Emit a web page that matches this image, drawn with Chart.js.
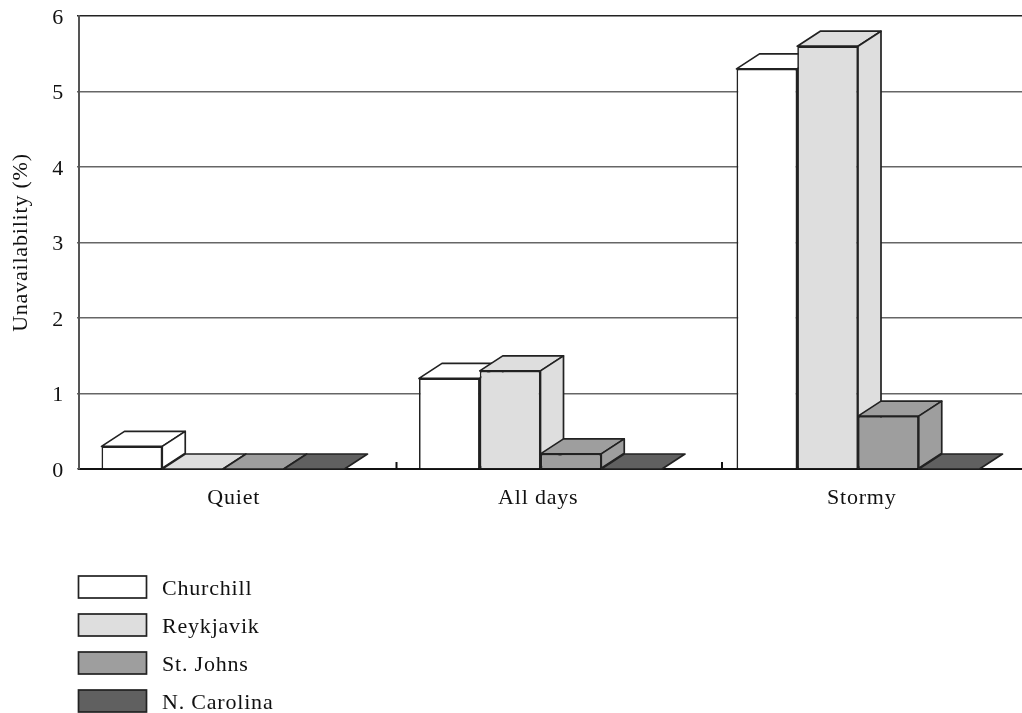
<!DOCTYPE html>
<html>
<head>
<meta charset="utf-8">
<style>
html,body{margin:0;padding:0;background:#fff;overflow:hidden;width:1022px;height:713px;}
canvas{display:block;}
</style>
<script src="https://cdn.jsdelivr.net/npm/chart.js@4/dist/chart.umd.min.js"></script>
</head>
<body>
<canvas id="chart" width="1040" height="713"></canvas>
<script>
const categories = ["Quiet", "All days", "Stormy"];
const churchill = [0.3, 1.2, 5.3];
const reykjavik = [0, 1.3, 5.6];
const stJohns = [0, 0.2, 0.7];
const nCarolina = [0, 0, 0];
const seriesNames = ["Churchill", "Reykjavik", "St. Johns", "N. Carolina"];
const seriesColors = ["#ffffff", "#dedede", "#9e9e9e", "#606060"];
const yLabel = "Unavailability (%)";

const font = "Liberation Serif";
const fontSize = 22;
const spacing = "0.8px";
const lineColor = "#222222";
const edge = 1.7;
const depthX = 23, depthY = 15;
const groupShift = -14.75;
const labelNudge = [-4, -17, -11];
const yLabelNudge = 2;
const tickNudge = [0, 8];

// bars sit left of the category centre, the depth part fills the rest
const shiftBars = {
  id: "shiftBars",
  afterDatasetsUpdate(chart){
    chart.getSortedVisibleDatasetMetas().forEach(meta=>{
      meta.data.forEach(bar=>{ bar.x += groupShift; });
    });
  }
};

function drawFaces(ctx, bar, color){
  const half = bar.width/2;
  const l = bar.x-half, r = bar.x+half, t = bar.y, b = bar.base;
  ctx.save();
  ctx.fillStyle = color;
  ctx.strokeStyle = lineColor;
  ctx.lineWidth = edge;
  ctx.lineJoin = "round";
  ctx.beginPath();
  ctx.moveTo(l,t);
  ctx.lineTo(l+depthX,t-depthY);
  ctx.lineTo(r+depthX,t-depthY);
  ctx.lineTo(r,t);
  ctx.closePath();
  ctx.fill();
  ctx.stroke();
  if(b-t>0.5){
    ctx.beginPath();
    ctx.moveTo(r,t);
    ctx.lineTo(r+depthX,t-depthY);
    ctx.lineTo(r+depthX,b-depthY);
    ctx.lineTo(r,b);
    ctx.closePath();
    ctx.fill();
    ctx.stroke();
  }
  ctx.restore();
}

// series are painted first to last so the later boxes cover the earlier ones
const boxes = {
  id: "boxes",
  beforeDatasetsDraw(chart){
    const ctx = chart.ctx;
    chart.data.datasets.forEach((ds,i)=>{
      chart.getDatasetMeta(i).data.forEach(bar=>{
        drawFaces(ctx,bar,ds.backgroundColor);
        bar.draw(ctx);
      });
    });
    return false;
  }
};

// small ticks between categories, and the axis labels moved to where they are in the figure
const axisBits = {
  id: "axisBits",
  beforeDraw(chart){
    chart.ctx.letterSpacing = spacing;
    chart.scales.x.getLabelItems(chart.chartArea).forEach((item,i)=>{
      if(!item.nudged){
        item.options.translation[0] += labelNudge[i];
        item.nudged = true;
      }
    });
    chart.scales.y.getLabelItems(chart.chartArea).forEach(item=>{
      if(!item.nudged){
        item.options.translation[1] += yLabelNudge;
        item.nudged = true;
      }
    });
  },
  afterDraw(chart){
    const ctx = chart.ctx, x = chart.scales.x, bottom = chart.chartArea.bottom;
    ctx.save();
    ctx.strokeStyle = "#111111";
    ctx.lineWidth = 2;
    tickNudge.forEach((n,i)=>{
      const px = (x.getPixelForTick(i)+x.getPixelForTick(i+1))/2+n;
      ctx.beginPath();
      ctx.moveTo(px,bottom);
      ctx.lineTo(px,bottom-7);
      ctx.stroke();
    });
    ctx.restore();
  }
};

// vertical legend under the plot
const legendBlock = {
  id: "legendBlock",
  afterDraw(chart){
    const ctx = chart.ctx;
    ctx.save();
    ctx.font = fontSize+"px '"+font+"'";
    ctx.textBaseline = "middle";
    seriesNames.forEach((name,i)=>{
      const y = 576+i*38;
      ctx.fillStyle = seriesColors[i];
      ctx.fillRect(78.5,y,68,22);
      ctx.strokeStyle = lineColor;
      ctx.lineWidth = edge;
      ctx.strokeRect(78.5,y,68,22);
      ctx.fillStyle = "#111111";
      ctx.fillText(name,162,y+13);
    });
    ctx.restore();
  }
};

const allValues = [churchill, reykjavik, stJohns, nCarolina];

new Chart(document.getElementById("chart"),{
  type:"bar",
  data:{
    labels:categories,
    datasets:allValues.map((vals,i)=>({
      label:seriesNames[i],
      data:vals,
      backgroundColor:seriesColors[i],
      borderColor:lineColor,
      borderWidth:edge,
      barPercentage:1,
      categoryPercentage:0.7654
    }))
  },
  options:{
    responsive:false,
    animation:false,
    devicePixelRatio:1,
    layout:{padding:{top:16,right:8.5,bottom:0,left:0}},
    plugins:{legend:{display:false},tooltip:{enabled:false}},
    scales:{
      x:{
        afterFit(s){ s.height=244; },
        grid:{display:false},
        border:{color:"#111111",width:2},
        ticks:{color:"#111111",padding:8,maxRotation:0,font:{family:font,size:fontSize}}
      },
      y:{
        min:0,
        max:6,
        afterFit(s){ s.width=79; s.paddingTop=0; s.paddingBottom=0; },
        grid:{
          color:ctx=>ctx.tick && ctx.tick.value===6 ? "#222222" : "#666666",
          lineWidth:1.5,
          tickLength:2
        },
        border:{color:"#555555",width:2},
        title:{display:true,text:yLabel,color:"#111111",padding:{top:8,bottom:0},font:{family:font,size:fontSize}},
        ticks:{stepSize:1,color:"#111111",padding:13,font:{family:font,size:fontSize}}
      }
    }
  },
  plugins:[shiftBars,boxes,axisBits,legendBlock]
});
</script>
</body>
</html>
